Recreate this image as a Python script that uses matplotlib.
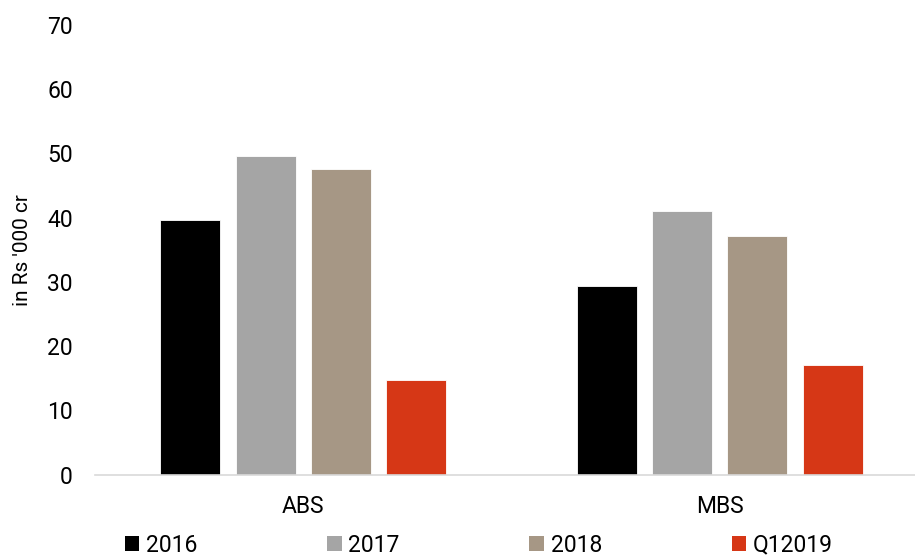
import matplotlib.pyplot as plt
import numpy as np

plt.rcParams['font.family'] = ['Roboto', 'DejaVu Sans']

categories = ["ABS", "MBS"]
series_names = ["2016", "2017", "2018", "Q12019"]
values_2016 = [39.7, 29.4]
values_2017 = [49.6, 41.0]
values_2018 = [47.5, 37.1]
values_q12019 = [14.7, 17.0]
colors = ["#000000", "#a5a5a5", "#a69785", "#d63716"]

series = [values_2016, values_2017, values_2018, values_q12019]

fig = plt.figure(figsize=(9.15, 5.56), dpi=100)
ax = fig.add_axes([95 / 915, 81.5 / 556, 833 / 915, 449.5 / 556])

x = np.arange(len(categories))
width = 0.144
step = 0.181
for i, (vals, name, col) in enumerate(zip(series, series_names, colors)):
    offs = (i - 1.5) * step
    ax.bar(x + offs, vals, width, color=col, label=name,
           edgecolor="white", linewidth=0.6)

ax.set_xlim(-0.5, 1.5)
ax.set_ylim(0, 70)
ax.set_yticks(np.arange(0, 71, 10))
ax.set_xticks(x)
ax.set_xticklabels(categories)
ax.tick_params(axis="both", length=0, labelsize=16.5, colors="#000000")
ax.tick_params(axis="y", pad=16)
ax.tick_params(axis="x", pad=14.5)
for s in ["top", "right", "left"]:
    ax.spines[s].set_visible(False)
ax.spines["bottom"].set_color("#d9d9d9")
ax.spines["bottom"].set_linewidth(1.2)

ax.set_ylabel("in Rs '000 cr", fontsize=15)
ax.yaxis.set_label_coords(-63 / 833, 0.5)

leg = fig.legend(loc="center left", bbox_to_anchor=(125 / 915, 11 / 556),
                 ncol=4, frameon=False, fontsize=16.5, handlelength=0.63,
                 handleheight=0.63, handletextpad=0.3, columnspacing=5.65,
                 borderaxespad=0, borderpad=0)
for h in leg.legend_handles:
    h.set_edgecolor("none")

fig.savefig("out.png", dpi=100)
